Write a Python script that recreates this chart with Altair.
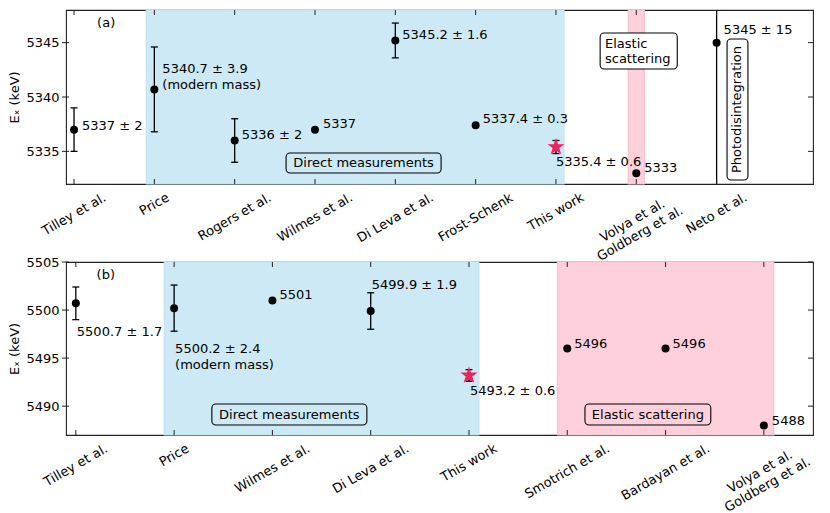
import altair as alt
import pandas as pd

FONT = "DejaVu Sans"
FS = 13
W = 747
H_A = 174
H_B = 173
INK = "black"
FRAME = "#222222"
BLUE = "#cde9f6"
BLUE_EDGE = "#bfe3f4"
PINK = "#fdd0dc"
PINK_EDGE = "#fbc0d0"
STAR = "#f0215d"
STAR_PATH = ("M0,-1L-0.2245,-0.309L-0.9511,-0.309L-0.3633,0.118L-0.5878,0.809L0,0.382"
             "L0.5878,0.809L0.3633,0.118L0.9511,-0.309L0.2245,-0.309Z")

# ---------------- panel (a) data ----------------
a_refs = ["Tilley et al.", "Price", "Rogers et al.", "Wilmes et al.", "Di Leva et al.",
          "Frost-Schenk", "This work", "Volya et al.\nGoldberg et al.", "Neto et al."]
a_val = [5337, 5340.7, 5336, 5337, 5345.2, 5337.4, 5335.4, 5333, 5345]
a_err = [2, 3.9, 2, None, 1.6, 0.3, 0.6, None, 15]
a_text = ["5337 ± 2", "5340.7 ± 3.9\n(modern mass)", "5336 ± 2", "5337", "5345.2 ± 1.6",
          "5337.4 ± 0.3", "5335.4 ± 0.6", "5333", "5345 ± 15"]
# label offsets in pixels (first text line)
a_text_dx = [8, 8, 7, 8, 7, 7, 0, 8, 7]
a_text_dy = [-4, -20.4, -5.5, -5.6, -5.5, -6, 15, -5, -12.6]
a_this = 6
a_yticks = [5335, 5340, 5345]
a_ydom = [5332, 5348]
a_xdom = [-0.1, 9.2]
a_bands = [(0.9, 6.1, BLUE, BLUE_EDGE), (6.9, 7.1, PINK, PINK_EDGE)]
a_tag = ("(a)", 0.40, 5346.8)
a_boxes = [(2.64, 4.57, 5333.01, 5334.85, "transparent"),
           (6.55, 7.51, 5342.57, 5345.88, "white"),
           (8.13, 8.39, 5332.37, 5345.33, "white")]
a_notes = [("Direct measurements", 3.605, 5333.93, "center", 0, 15),
           ("Elastic\nscattering", 6.61, 5344.91, "left", 0, 15),
           ("Photodisintegration", 8.26, 5338.85, "center", 270, 15)]

# ---------------- panel (b) data ----------------
b_refs = ["Tilley et al.", "Price", "Wilmes et al.", "Di Leva et al.", "This work",
          "Smotrich et al.", "Bardayan et al.", "Volya et al.\nGoldberg et al."]
b_val = [5500.7, 5500.2, 5501, 5499.9, 5493.2, 5496, 5496, 5488]
b_err = [1.7, 2.4, None, 1.9, 0.6, None, None, None]
b_text = ["5500.7 ± 1.7", "5500.2 ± 2.4\n(modern mass)", "5501", "5499.9 ± 1.9",
          "5493.2 ± 0.6", "5496", "5496", "5488"]
b_text_dx = [1, 1, 7, 1, 1, 7, 7, 8]
b_text_dy = [28.4, 41, -5.4, -26, 16, -4.5, -4.5, -4]
b_this = 4
b_yticks = [5490, 5495, 5500, 5505]
b_ydom = [5487, 5505]
b_xdom = [-0.1, 7.5]
b_bands = [(0.9, 4.1, BLUE, BLUE_EDGE), (4.9, 7.1, PINK, PINK_EDGE)]
b_tag = ("(b)", 0.305, 5503.65)
b_boxes = [(1.384, 2.961, 5488.04, 5490.23, "transparent"),
           (5.18, 6.46, 5488.04, 5490.23, "transparent")]
b_notes = [("Direct measurements", 2.172, 5489.13, "center", 0, 15),
           ("Elastic scattering", 5.82, 5489.13, "center", 0, 15)]

# DejaVu Sans advance widths (em) used to centre the rotated category labels
CW = {" ": .318, ".": .318, "-": .361, "a": .613, "b": .635, "c": .550, "d": .635,
      "e": .615, "g": .635, "h": .634, "i": .278, "k": .579, "l": .278, "m": .974,
      "n": .634, "o": .612, "r": .411, "s": .521, "t": .392, "u": .634, "v": .592,
      "w": .818, "y": .592, "B": .686, "D": .770, "F": .575, "G": .776, "L": .557,
      "N": .748, "P": .603, "R": .695, "S": .635, "T": .611, "V": .684, "W": .989}
LH = 15
MARKER_R = 4


def text_w(s):
    return sum(CW.get(c, 0.6) for c in s) * FS


def panel(refs, vals, errs, texts, tdx, tdy, this_idx, yticks, ydom, xdom, height,
          bands, tag, boxes, notes):
    pxx = W / (xdom[1] - xdom[0])
    pxy = height / (ydom[1] - ydom[0])
    xscale = alt.Scale(domain=xdom, nice=False, zero=False)
    yscale = alt.Scale(domain=ydom, nice=False, zero=False)
    yaxis = alt.Axis(values=yticks, format="d", title="Eₓ (keV)", ticks=False,
                     domain=False, grid=False, labelPadding=7, titlePadding=4)

    def X(f):
        return alt.X(f, type="quantitative", scale=xscale, axis=None)

    def Y(f):
        return alt.Y(f, type="quantitative", scale=yscale, axis=yaxis)

    pos = list(range(len(refs)))
    df = pd.DataFrame({
        "x": pos, "y": vals, "label": texts,
        "lx": [p + d / pxx for p, d in zip(pos, tdx)],
        "ly": [v - d / pxy for v, d in zip(vals, tdy)],
        "this": [1 if i == this_idx else 0 for i in pos],
    })
    err_rows = [{"x": p, "lo": v - e, "hi": v + e, "e": e, "this": 1 if p == this_idx else 0}
                for p, v, e in zip(pos, vals, errs) if e is not None]
    err_df = pd.DataFrame(err_rows)
    # caps that would sit inside a round marker are hidden by it, as in the reference
    cap_rows = [r for r in err_rows if r["this"] == 1 or r["e"] * pxy > MARKER_R + 1]
    cap_df = pd.DataFrame([{"x": r["x"], "c": r["lo"]} for r in cap_rows] +
                          [{"x": r["x"], "c": r["hi"]} for r in cap_rows])

    band_df = pd.DataFrame(bands, columns=["x1", "x2", "fill", "edge"])
    bands_l = alt.Chart(band_df).mark_rect(strokeWidth=1.2).encode(
        x=X("x1"), x2="x2",
        fill=alt.Fill("fill:N", scale=None), stroke=alt.Stroke("edge:N", scale=None))

    box_df = pd.DataFrame(boxes, columns=["x1", "x2", "y1", "y2", "fill"])
    boxes_l = alt.Chart(box_df).mark_rect(cornerRadius=4, stroke=INK, strokeWidth=1.1).encode(
        x=X("x1"), x2="x2", y=Y("y1"), y2="y2", fill=alt.Fill("fill:N", scale=None))

    note_layers = []
    for txt, nx, ny, al, ang, lh in notes:
        nd = pd.DataFrame({"t": [txt], "x": [nx], "y": [ny]})
        mk = dict(align=al, baseline="middle", lineBreak="\n", lineHeight=lh,
                  fontSize=FS, font=FONT, color=INK)
        if ang:
            mk["angle"] = ang
        note_layers.append(alt.Chart(nd).mark_text(**mk).encode(
            x=X("x"), y=Y("y"), text="t:N"))

    err_l = alt.Chart(err_df).mark_rule(clip=True, strokeWidth=1.3, color=INK).encode(
        x=X("x"), y=Y("lo"), y2="hi")
    cap_l = alt.Chart(cap_df).mark_tick(orient="horizontal", size=7, thickness=1.3,
                                        clip=True, color=INK, opacity=1).encode(
        x=X("x"), y=Y("c"))
    pts_l = alt.Chart(df).transform_filter("datum.this == 0").mark_circle(
        size=64, color=INK, opacity=1).encode(x=X("x"), y=Y("y"))
    star_l = alt.Chart(df).transform_filter("datum.this == 1").mark_point(
        shape=STAR_PATH, size=330, filled=True, color=STAR, opacity=1).encode(
        x=X("x"), y=Y("y"))
    lab_l = alt.Chart(df).mark_text(align="left", baseline="middle", lineBreak="\n",
                                    lineHeight=16, fontSize=FS, font=FONT, color=INK).encode(
        x=X("lx"), y=Y("ly"), text="label:N")

    tag_df = pd.DataFrame({"t": [tag[0]], "x": [tag[1]], "y": [tag[2]]})
    tag_l = alt.Chart(tag_df).mark_text(align="center", baseline="middle", fontSize=FS,
                                        font=FONT, color=INK).encode(
        x=X("x"), y=Y("y"), text="t:N")

    xt_df = pd.DataFrame({"x": pos})
    xt_bot = alt.Chart(xt_df).mark_rule(color=FRAME, strokeWidth=1).encode(
        x=X("x"), y=alt.value(height), y2=alt.value(height - 5))
    xt_top = alt.Chart(xt_df).mark_rule(color=FRAME, strokeWidth=1).encode(
        x=X("x"), y=alt.value(0), y2=alt.value(5))
    yt_df = pd.DataFrame({"y": yticks})
    yt_left = alt.Chart(yt_df).mark_rule(color=FRAME, strokeWidth=1).encode(
        y=Y("y"), x=alt.value(-4), x2=alt.value(3))
    yt_right = alt.Chart(yt_df).mark_rule(color=FRAME, strokeWidth=1).encode(
        y=Y("y"), x=alt.value(W), x2=alt.value(W - 5))

    # rotated category labels, centred under their ticks like matplotlib
    nlines = [len(r.split("\n")) for r in refs]
    widths = [max(text_w(s) for s in r.split("\n")) for r in refs]
    off = [6 + (0.5 * w + 0.866 * LH * n) / 2 for w, n in zip(widths, nlines)]
    # Vega anchors the first line, so move the anchor back to the first line's centre
    sx = [-(n - 1) * LH / 2 * 0.5 for n in nlines]
    sy = [-(n - 1) * LH / 2 * 0.866 for n in nlines]
    xl_df = pd.DataFrame({"x": [p + s / pxx for p, s in zip(pos, sx)], "t": refs,
                          "y": [ydom[0] - (o + s) / pxy for o, s in zip(off, sy)]})
    xl_l = alt.Chart(xl_df).mark_text(align="center", baseline="middle", angle=330,
                                      lineBreak="\n", lineHeight=LH, fontSize=FS,
                                      font=FONT, color=INK).encode(
        x=X("x"), y=Y("y"), text="t:N")

    return alt.layer(bands_l, boxes_l, *note_layers, err_l, cap_l, pts_l, star_l,
                     lab_l, tag_l, xt_bot, xt_top, yt_left, yt_right, xl_l).properties(
        width=W, height=height)


top = panel(a_refs, a_val, a_err, a_text, a_text_dx, a_text_dy, a_this, a_yticks,
            a_ydom, a_xdom, H_A, a_bands, a_tag, a_boxes, a_notes)
bottom = panel(b_refs, b_val, b_err, b_text, b_text_dx, b_text_dy, b_this, b_yticks,
               b_ydom, b_xdom, H_B, b_bands, b_tag, b_boxes, b_notes)

chart = alt.vconcat(top, bottom, spacing=78, bounds="flush").properties(
    padding={"left": 0, "top": 0, "right": 0, "bottom": 0}
).configure_view(stroke=FRAME, strokeWidth=1.1).configure_axis(
    labelFont=FONT, labelFontSize=FS, labelColor=INK,
    titleFont=FONT, titleFontSize=FS, titleFontWeight="normal", titleColor=INK
)

chart.save("out.html", embed_options={"renderer": "svg", "actions": False})
